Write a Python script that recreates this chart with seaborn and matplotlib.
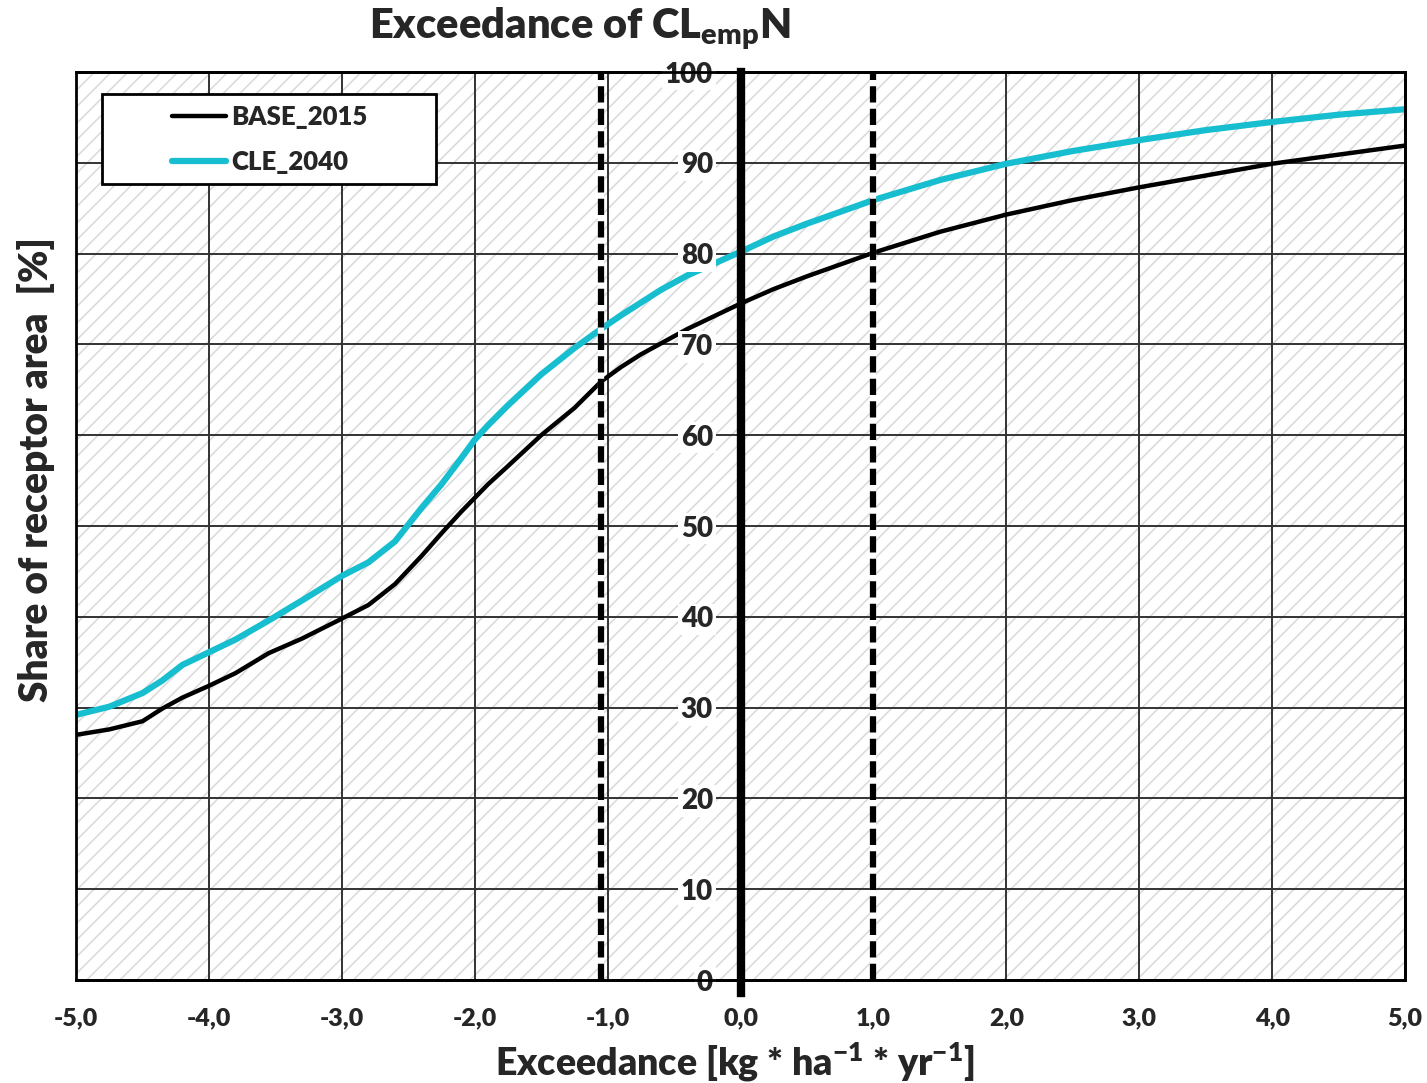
import matplotlib
matplotlib.use('Agg')
import matplotlib.pyplot as plt
import matplotlib.patches as mpatches
from matplotlib.lines import Line2D
from matplotlib.legend_handler import HandlerLine2D
from matplotlib.ticker import FuncFormatter
import seaborn as sns

# Datos
exceedance = [-5.0, -4.75, -4.5, -4.35, -4.2, -4.0, -3.8, -3.55, -3.3, -3.0,
              -2.8, -2.6, -2.4, -2.25, -2.1, -2.0, -1.9, -1.75, -1.5, -1.25,
              -1.05, -0.9, -0.75, -0.6, -0.4, 0.0, 0.25, 0.5, 0.75, 1.0,
              1.5, 2.0, 2.5, 3.0, 3.5, 4.0, 4.5, 5.0]
base_2015 = [27.0, 27.6, 28.5, 29.9, 31.1, 32.4, 33.8, 36.0, 37.6, 39.8,
             41.3, 43.6, 46.7, 49.2, 51.6, 53.1, 54.6, 56.6, 60.0, 63.0,
             65.9, 67.5, 68.9, 70.1, 71.7, 74.5, 76.1, 77.5, 78.8, 80.1,
             82.4, 84.3, 85.9, 87.3, 88.6, 89.9, 90.9, 91.9]
cle_2040 = [29.2, 30.1, 31.6, 33.0, 34.7, 36.1, 37.5, 39.6, 41.8, 44.5,
            46.0, 48.3, 52.0, 54.6, 57.5, 59.5, 61.1, 63.3, 66.7, 69.6,
            71.7, 73.2, 74.6, 76.0, 77.6, 80.2, 81.9, 83.3, 84.6, 85.9,
            88.1, 89.9, 91.3, 92.5, 93.6, 94.5, 95.3, 95.9]
ref_lines = [-1.05, 1.0]
x_ticks = list(range(-5, 6))
y_ticks = list(range(0, 101, 10))

sns.set_style('white')
plt.rcParams['font.family'] = ['Lato', 'DejaVu Sans']
plt.rcParams['font.weight'] = 'heavy'
plt.rcParams['mathtext.default'] = 'regular'
plt.rcParams['mathtext.fontset'] = 'custom'
plt.rcParams['mathtext.rm'] = 'Lato:heavy'
plt.rcParams['mathtext.it'] = 'Lato:heavy'
plt.rcParams['mathtext.bf'] = 'Lato:heavy'
plt.rcParams['hatch.linewidth'] = 1.1

fig = plt.figure(figsize=(14.27, 10.83), dpi=100)
ax = fig.add_axes([0.0533, 0.0951, 0.9313, 0.8384])

# fondo rayado
ax.add_patch(mpatches.Rectangle((0, 0), 1, 1, transform=ax.transAxes, facecolor='white',
                                edgecolor='#d9d9d9', hatch='//', lw=0, zorder=0))

# rejilla
for xv in x_ticks[1:-1]:
    ax.axvline(xv, color='#333333', lw=1.4, zorder=1)
for yv in y_ticks[1:-1]:
    ax.axhline(yv, color='#333333', lw=1.4, zorder=1)

# curvas
sns.lineplot(x=exceedance, y=base_2015, color='black', lw=3.2, label='BASE_2015', ax=ax, zorder=2)
sns.lineplot(x=exceedance, y=cle_2040, color='#17becf', lw=4.5, label='CLE_2040', ax=ax, zorder=2)

# líneas de referencia discontinuas
for xv in ref_lines:
    ax.axvline(xv, color='white', lw=4.5, zorder=2.2)
    ax.axvline(xv, color='black', lw=4.5, ls=(0, (2.6, 1)), zorder=2.3)

ax.set_xlim(-5, 5)
ax.set_ylim(0, 100)
ax.set_axisbelow(False)

# ejes
ax.spines['left'].set_position(('data', 0))
ax.spines['left'].set_linewidth(6)
ax.spines['left'].set_bounds(-1.4, 100)
for s in ['left', 'top', 'right', 'bottom']:
    ax.spines[s].set_color('black')
for s in ['top', 'right', 'bottom']:
    ax.spines[s].set_linewidth(2)
ax.add_patch(mpatches.Rectangle((0, 0), 1, 1, transform=ax.transAxes, fill=False,
                                edgecolor='black', lw=2, zorder=3, clip_on=False))

ax.set_xticks(x_ticks)
ax.set_yticks(y_ticks)
ax.xaxis.set_major_formatter(FuncFormatter(lambda v, p: f'{v:.1f}'.replace('.', ',')))
ax.tick_params(axis='x', length=0, pad=20, labelsize=18)
ax.tick_params(axis='y', direction='inout', length=6, width=1.5, pad=17, labelsize=20,
               color='black')
for lbl in ax.get_yticklabels():
    lbl.set_bbox(dict(facecolor='white', edgecolor='none', pad=2))

ax.set_xlabel('Exceedance [kg * ha$^{-1}$ * yr$^{-1}$]', fontsize=27, fontweight='heavy')
ax.xaxis.set_label_coords(0.496, -0.066)
ax.set_ylabel('Share of receptor area  [%]', fontsize=28, fontweight='heavy')
ax.yaxis.set_label_coords(-0.016, 0.562)

fig.text(0.4065, 0.995, 'Exceedance of CL$_{emp}$N', ha='center', va='top',
         fontsize=30, fontweight='heavy')

leg = ax.legend(loc='upper left', bbox_to_anchor=(0.0196, 0.5, 0.2513, 0.476), mode='expand',
                borderaxespad=0, fontsize=18.5, frameon=True, fancybox=False,
                edgecolor='black', framealpha=1, handlelength=4.4, handletextpad=0.2,
                labelspacing=0.82, borderpad=0.42,
                handler_map={Line2D: HandlerLine2D(xpad=2.3)})
leg.get_frame().set_linewidth(2)

fig.savefig('out.png', dpi=100)
